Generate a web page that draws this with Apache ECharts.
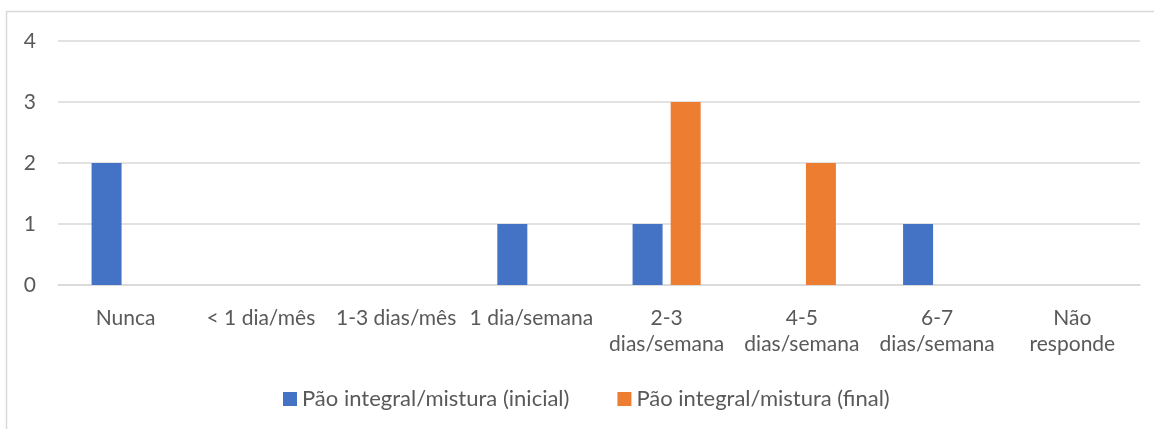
<!DOCTYPE html>
<html>
<head>
<meta charset="utf-8">
<script src="https://cdn.jsdelivr.net/npm/echarts@6/dist/echarts.min.js"></script>
<style>
  html, body { margin: 0; padding: 0; background: #fff; }
  #chart { width: 1154px; height: 429px; }
</style>
</head>
<body>
<div id="chart"></div>
<script>
const categories = [
  "Nunca",
  "< 1 dia/mês",
  "1-3 dias/mês",
  "1 dia/semana",
  "2-3\ndias/semana",
  "4-5\ndias/semana",
  "6-7\ndias/semana",
  "Não\nresponde",
];
const inicial = [2, 0, 0, 1, 1, 0, 1, 0];
const final = [0, 0, 0, 0, 3, 2, 0, 0];
const yTicks = [0, 1, 2, 3, 4];

const fontFamily = "Lato, 'Open Sans', sans-serif";
const textColor = "#595959";

const chart = echarts.init(document.getElementById("chart"));
chart.setOption({
  animation: false,
  textStyle: { fontFamily: fontFamily },
  // moldura cinza do gráfico (só topo e esquerda aparecem)
  graphic: [
    {
      type: "rect",
      shape: { x: 6.5, y: 11.5, width: 1200, height: 500 },
      style: { fill: "none", stroke: "#d9d9d9", lineWidth: 1.5 },
      silent: true,
    },
  ],
  grid: { left: 58, right: 14, top: 41, bottom: 144, containLabel: false },
  legend: {
    top: 383,
    left: 278,
    itemWidth: 14,
    itemHeight: 14,
    itemGap: 48,
    icon: "rect",
    textStyle: { color: textColor, fontSize: 22, fontFamily: fontFamily },
  },
  xAxis: {
    type: "category",
    data: categories,
    axisLine: { show: true, lineStyle: { color: "#d9d9d9", width: 1.5 } },
    axisTick: { show: false },
    axisLabel: {
      color: textColor,
      fontSize: 21,
      interval: 0,
      margin: 20,
      lineHeight: 26,
    },
  },
  yAxis: {
    type: "value",
    min: yTicks[0],
    max: yTicks[yTicks.length - 1],
    interval: 1,
    axisLine: { show: false },
    axisTick: { show: false },
    splitLine: { lineStyle: { color: "#d9d9d9", width: 1.5 } },
    axisLabel: { color: textColor, fontSize: 21, margin: 22 },
  },
  series: [
    {
      name: "Pão integral/mistura (inicial)",
      type: "bar",
      data: inicial,
      barWidth: 30,
      barGap: "27%",
      itemStyle: { color: "#4472c4" },
    },
    {
      name: "Pão integral/mistura (final)",
      type: "bar",
      data: final,
      barWidth: 30,
      itemStyle: { color: "#ed7d31" },
    },
  ],
});
</script>
</body>
</html>
